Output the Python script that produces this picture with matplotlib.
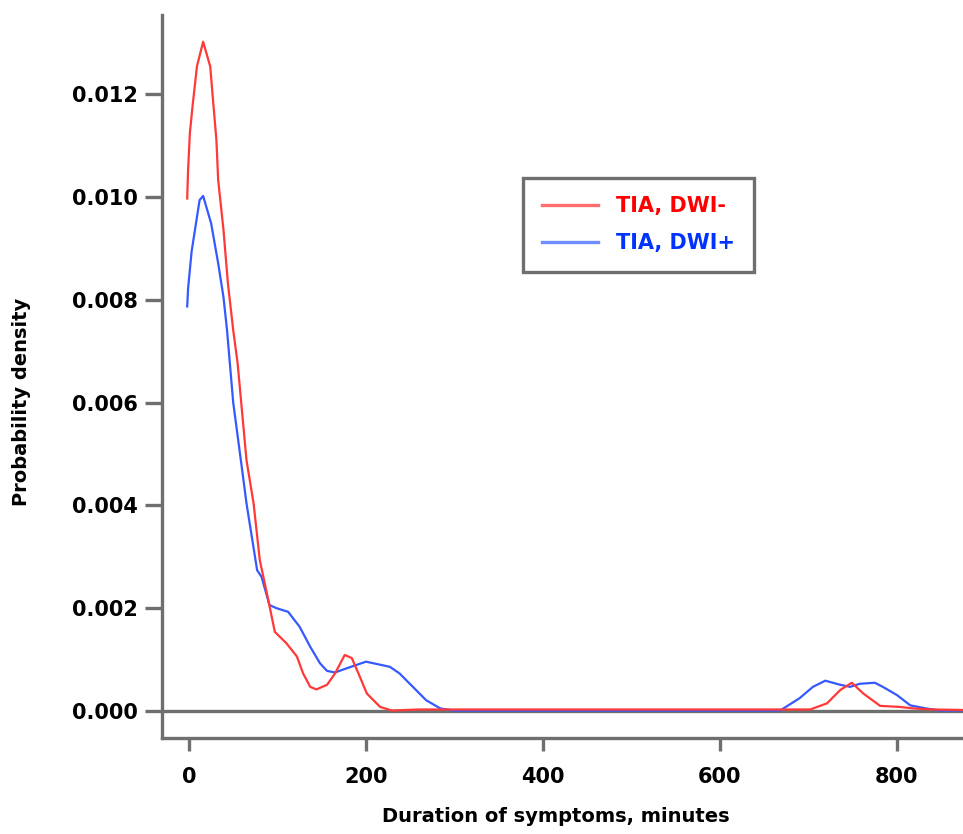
"""Probability density of symptom duration for TIA patients, DWI- vs DWI+."""

import matplotlib

matplotlib.use("Agg")
import matplotlib.pyplot as plt
from matplotlib.lines import Line2D

# ---------------------------------------------------------------------------
# Data
# ---------------------------------------------------------------------------
RED_X = [-2, -1, 1, 4, 9, 16, 24, 27.5, 31, 33, 39, 44, 50, 55, 65, 73, 80,
         88, 92, 97, 110, 122, 129, 137, 144, 156, 165, 176, 184, 193, 201,
         216, 229, 260, 300, 400, 500, 600, 680, 702, 721, 736, 749, 762, 781,
         803, 819, 840, 875]
RED_Y = [0.00997, 0.01052, 0.01124, 0.01176, 0.01254, 0.01302, 0.01254,
         0.01182, 0.01111, 0.01033, 0.00936, 0.00832, 0.00741, 0.00676,
         0.00488, 0.00404, 0.00294, 0.00229, 0.00196, 0.00154, 0.00132,
         0.00106, 0.00073, 0.00047, 0.00042, 0.00051, 0.00073, 0.00109,
         0.00103, 0.00067, 0.00034, 0.00008, 0.00001, 0.00003, 0.00003,
         0.00003, 0.00003, 0.00003, 0.00003, 0.00003, 0.00015, 0.00041,
         0.00055, 0.00034, 0.00010, 0.00008, 0.00005, 0.00003, 0.00002]

BLUE_X = [-2, -1, 3, 12, 16, 25, 33, 39, 43, 46, 50, 60, 65, 77, 82, 91, 99,
          112, 125, 137, 148, 156, 165, 178, 200, 227, 238, 253, 268, 284, 299,
          400, 500, 600, 668, 690, 705, 719, 736, 747, 758, 775, 784, 800, 815,
          833, 849, 875]
BLUE_Y = [0.00787, 0.00822, 0.00894, 0.00994, 0.01002, 0.00949, 0.00871,
          0.00805, 0.00741, 0.00680, 0.00600, 0.00470, 0.00404, 0.00274,
          0.00261, 0.00206, 0.00200, 0.00193, 0.00164, 0.00125, 0.00093,
          0.00078, 0.00075, 0.00083, 0.00096, 0.00086, 0.00073, 0.00047,
          0.00021, 0.00005, 0.00001, 0.00001, 0.00001, 0.00001, 0.00001,
          0.00025, 0.00047, 0.00059, 0.00051, 0.00047, 0.00053, 0.00055,
          0.00047, 0.00031, 0.00011, 0.00005, 0.00001, 0.00001]

SERIES_LABELS = ["TIA, DWI-", "TIA, DWI+"]
X_TICKS = [0, 200, 400, 600, 800]
Y_TICKS = [0.0, 0.002, 0.004, 0.006, 0.008, 0.010, 0.012]

# ---------------------------------------------------------------------------
# Style
# ---------------------------------------------------------------------------
GREY = "#6f6f6f"
RED = "#ff3838"
BLUE = "#3559ff"
FONT = 15


def main() -> None:
    plt.rcParams["font.family"] = "DejaVu Sans"
    plt.rcParams["font.weight"] = "bold"

    fig = plt.figure(figsize=(9.63, 8.34), dpi=100)
    ax = fig.add_axes([0.1682, 0.1151, 0.8318, 0.8669])

    ax.axhline(0, color=GREY, lw=2.4, zorder=1)
    ax.plot(RED_X, RED_Y, color=RED, lw=1.6, zorder=3)
    ax.plot(BLUE_X, BLUE_Y, color=BLUE, lw=1.6, zorder=2)

    ax.set_xlim(-30.5, 874.6)
    ax.set_ylim(-0.000525, 0.01354)
    ax.set_xticks(X_TICKS)
    ax.set_yticks(Y_TICKS)
    ax.set_yticklabels([f"{v:.3f}" for v in Y_TICKS])

    for side in ("top", "right"):
        ax.spines[side].set_visible(False)
    for side in ("left", "bottom"):
        ax.spines[side].set_color(GREY)
        ax.spines[side].set_linewidth(2.4)

    ax.tick_params(axis="y", direction="out", length=12, width=2.4,
                   color=GREY, labelsize=FONT, pad=5)
    ax.tick_params(axis="x", direction="out", length=9, width=2.4,
                   color=GREY, labelsize=FONT, pad=12)

    ax.set_xlabel("Duration of symptoms, minutes", fontsize=14,
                  fontweight="bold")
    ax.set_ylabel("Probability density", fontsize=14, fontweight="bold")
    ax.xaxis.set_label_coords(0.492, -0.095)
    ax.yaxis.set_label_coords(-0.163, 0.465)

    handles = [Line2D([], [], color="#ff6f6f", lw=2.4),
               Line2D([], [], color="#6f8dff", lw=2.4)]
    leg = ax.legend(handles, SERIES_LABELS, loc="upper left",
                    bbox_to_anchor=(0.451, 0.775), borderaxespad=0,
                    fontsize=FONT, fancybox=False, framealpha=1,
                    edgecolor=GREY, handlelength=2.7, handletextpad=0.85,
                    borderpad=0.9, labelspacing=0.8)
    leg.get_frame().set_linewidth(2.4)
    for text, color in zip(leg.get_texts(), ["#ff0000", "#0033ff"]):
        text.set_color(color)
        text.set_fontweight("bold")

    fig.savefig("out.png", dpi=100)
    plt.close(fig)


if __name__ == "__main__":
    main()
